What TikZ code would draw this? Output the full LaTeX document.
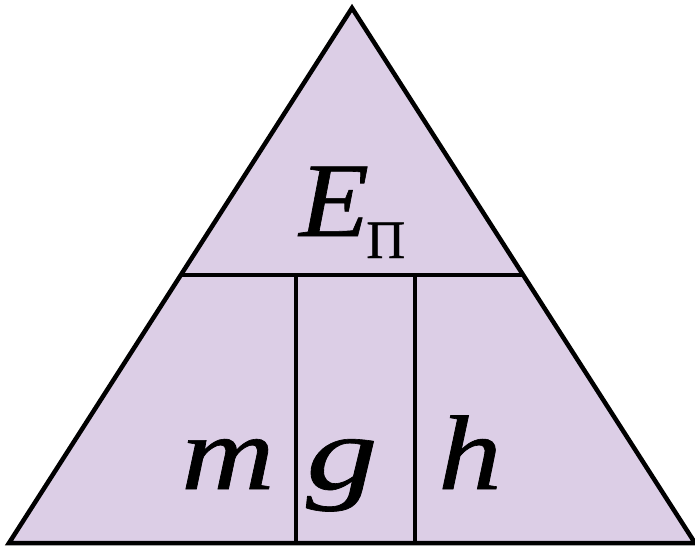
\documentclass[tikz,border=0pt]{standalone}
\usepackage{graphicx}
\usepackage{fontspec}
\setmainfont{Liberation Serif}
\newfontfamily\lblfont[FakeBold=0.6]{Liberation Serif}
\definecolor{lav}{RGB}{220,206,230}
\newcommand{\wid}[2]{\scalebox{#1}[1]{#2}}
\begin{document}
\begin{tikzpicture}[x=1pt,y=-1pt,
  lbl/.style={anchor=base west,inner sep=0pt,font=\fontsize{106}{106}\lblfont\itshape},
  edge/.style={line width=4.5pt,line join=miter},
  inner/.style={line width=3.2pt}]
\useasboundingbox (0,0) rectangle (695,547);
\coordinate (A) at (352,8);
\coordinate (L) at (9,543);
\coordinate (R) at (695,543);
\fill[lav] (A) -- (R) -- (L) -- cycle;
\coordinate (hl) at (180,275);
\coordinate (hr) at (524,275);
\coordinate (v1t) at (296,275);
\coordinate (v1b) at (296,543);
\coordinate (v2t) at (415,275);
\coordinate (v2b) at (415,543);
\draw[inner] (hl) -- (hr);
\draw[inner] (v1t) -- (v1b);
\draw[inner] (v2t) -- (v2b);
\draw[edge] (A) -- (R) -- (L) -- cycle;
\node[lbl] (E) at (299,236) {\wid{1.08}{E}};
\node[anchor=base west,inner sep=0pt,font=\fontsize{54}{54}\lblfont] (P) at (366,258) {П};
\node[lbl] (m) at (181,489) {\wid{1.22}{m}};
\node[lbl] (g) at (306,489) {\wid{1.35}{g}};
\node[lbl] (h) at (438,489) {\wid{1.2}{h}};
\end{tikzpicture}
\end{document}
